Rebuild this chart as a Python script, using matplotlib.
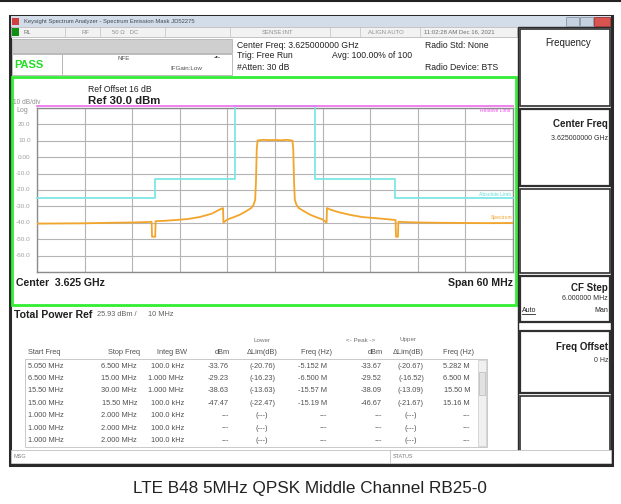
import matplotlib
matplotlib.use("Agg")
import matplotlib.pyplot as plt
from matplotlib.patches import Rectangle

plt.rcParams['font.family'] = ['Liberation Sans', 'DejaVu Sans']

# spectrum trace: offset from 3.625 GHz (MHz) and level (dBm)
trace_freq = [-30, -27, -24, -21, -18, -16.5, -15.55, -15.5, -15.1, -15.05, -14, -12.5, -11,
              -9.5, -8, -7, -6.55, -6.5, -6.0, -5.0, -4.4, -3.5, -3.0, -2.7, -2.5, -2.4, -2.3,
              -2.2, -1.5, -0.8, 0, 0.8, 1.5, 2.2, 2.3, 2.4, 2.5, 2.7, 3.0, 3.5, 4.4, 5.0, 6.0,
              6.5, 6.55, 7, 8, 9.5, 11, 13, 15.2, 15.25, 15.5, 15.55, 16.5, 18, 21, 24, 27, 30]
trace_dbm = [-40.5, -40.4, -40.3, -40.0, -39.8, -39.6, -39.4, -48.5, -48.5, -39.0, -38.8, -38.3, -37.7,
             -36.5, -34.5, -32.0, -31.0, -39.8, -38.0, -36.2, -35.0, -32.5, -31.0, -29.0, -26.0, -15.0, 5.0,
             10.2, 10.6, 10.4, 10.5, 10.3, 10.6, 10.1, 5.0, -15.0, -26.0, -29.0, -31.0, -32.5, -35.0, -36.2, -38.0,
             -39.8, -31.0, -32.0, -33.5, -35.2, -36.5, -37.3, -38.3, -48.5, -48.5, -39.4, -39.6, -39.8, -40.0, -40.1, -40.2, -40.1]

# limit mask
mask_freq = [-30, -15.1, -15.1, -5.05, -5.05, 5.05, 5.05, 15.1, 15.1, 30]
mask_dbm = [-25, -25, -13, -13, 31, 31, -13, -13, -25, -25]

ytick_vals = [20, 10, 0, -10, -20, -30, -40, -50, -60]
ytick_text = ["20.0", "10.0", "0.00", "-10.0", "-20.0", "-30.0", "-40.0", "-50.0", "-60.0"]

# result table
start_freq = ["5.050 MHz", "6.500 MHz", "15.50 MHz", "15.00 MHz", "1.000 MHz", "1.000 MHz", "1.000 MHz"]
stop_freq = ["6.500 MHz", "15.00 MHz", "30.00 MHz", "15.50 MHz", "2.000 MHz", "2.000 MHz", "2.000 MHz"]
integ_bw = ["100.0 kHz", "1.000 MHz", "1.000 MHz", "100.0 kHz", "100.0 kHz", "100.0 kHz", "100.0 kHz"]
lower_dbm = ["-33.76", "-29.23", "-38.63", "-47.47", "---", "---", "---"]
lower_dlim = ["(-20.76)", "(-16.23)", "(-13.63)", "(-22.47)", "(---)", "(---)", "(---)"]
lower_freq = ["-5.152 M", "-6.500 M", "-15.57 M", "-15.19 M", "---", "---", "---"]
upper_dbm = ["-33.67", "-29.52", "-38.09", "-46.67", "---", "---", "---"]
upper_dlim = ["(-20.67)", "(-16.52)", "(-13.09)", "(-21.67)", "(---)", "(---)", "(---)"]
upper_freq = ["5.282 M", "6.500 M", "15.50 M", "15.16 M", "---", "---", "---"]

W, H = 621, 504
fig = plt.figure(figsize=(W / 100, H / 100), dpi=100)
fig.patch.set_facecolor("white")

# pixel-space canvas for the instrument screen
bg = fig.add_axes([0, 0, 1, 1])
bg.set_xlim(0, W)
bg.set_ylim(H, 0)
bg.axis("off")


def box(x0, y0, x1, y1, fc="none", ec="#404040", lw=1.0, z=1):
    bg.add_patch(Rectangle((x0, y0), x1 - x0, y1 - y0, facecolor=fc, edgecolor=ec, lw=lw, zorder=z))


def txt(x, y, s, size=5.5, ha="left", color="#303030", weight="normal"):
    bg.text(x, y, s, fontsize=size, ha=ha, va="center", color=color, fontweight=weight)


bg.plot([0, W], [0.5, 0.5], color="#222222", lw=1.5)

# window
box(10, 16, 612, 465, fc="white", ec="#2a2a2a", lw=2.2)
box(11, 16, 611, 27, fc="#d3dde9", ec="none")
box(12, 18, 19, 25, fc="#d04040", ec="none", z=2)
txt(24, 21.5, "Keysight Spectrum Analyzer - Spectrum Emission Mask JD52275", size=4.2, color="#404850")
box(566, 17, 579, 26, fc="#c5d1df", ec="#8a96a6", lw=0.6, z=2)
box(580, 17, 593, 26, fc="#c5d1df", ec="#8a96a6", lw=0.6, z=2)
box(594, 17, 610, 26, fc="#d9534f", ec="#a03030", lw=0.6, z=2)

# status row
box(11, 27, 517, 37, fc="#f2f2f2", ec="#b0b0b0", lw=0.5)
box(12, 28, 19, 36, fc="#109010", ec="none", z=2)
for xs in [65, 100, 165, 230, 330, 360, 420]:
    bg.plot([xs, xs], [27, 37], color="#c0c0c0", lw=0.5)
txt(24, 32, "RL", size=4.3, color="#707070")
txt(82, 32, "RF", size=4.3, color="#909090")
txt(112, 32, "50 \u03a9   DC", size=4.3, color="#909090")
txt(262, 32, "SENSE:INT", size=4.3, color="#909090")
txt(368, 32, "ALIGN AUTO", size=4.3, color="#909090")
txt(424, 32, "11:02:28 AM Dec 16, 2021", size=4.3, color="#707070")

# header area
box(12, 39, 232, 53, fc="#cfcfcf", ec="#a8a8a8", lw=0.5)
box(12, 54, 62, 75, fc="white", ec="#b0b0b0", lw=0.6)
box(62, 54, 232, 75, fc="white", ec="#b0b0b0", lw=0.6)
txt(14, 64.5, "PASS", size=8, color="#22dd22", weight="bold")
txt(118, 58, "NFE", size=4.5, color="#505050")
txt(170, 69, "IFGain:Low", size=4.5, color="#505050")
txt(214, 58, "-\u2022-", size=5, color="#303030")
txt(237, 45, "Center Freq: 3.625000000 GHz", size=6.2, color="#202020")
txt(237, 56, "Trig: Free Run", size=6.2, color="#202020")
txt(237, 67, "#Atten: 30 dB", size=6.2, color="#202020")
txt(332, 56, "Avg: 100.00% of 100", size=6.2, color="#202020")
txt(425, 45, "Radio Std: None", size=6.2, color="#202020")
txt(425, 67, "Radio Device: BTS", size=6.2, color="#202020")

# green measurement frame
box(12, 77, 516, 305, fc="white", ec="#33ee33", lw=2.0)
txt(88, 90, "Ref Offset 16 dB", size=6.2, color="#202020")
txt(88, 101, "Ref 30.0 dBm", size=8.2, color="#202020", weight="bold")
txt(13, 102, "10 dB/div", size=4.8, color="#909090")
txt(16, 111, "Log", size=5, color="#909090")
txt(16, 283, "Center  3.625 GHz", size=7.6, color="#202020", weight="bold")
txt(513, 283, "Span 60 MHz", size=7.6, ha="right", color="#202020", weight="bold")

# right soft-key panel
box(518, 27, 611, 464, fc="white", ec="#2a2a2a", lw=1.0)
box(520, 29, 610, 106, ec="#303030", lw=1.2)
txt(568, 43, "Frequency", size=7, ha="center", color="#202020")
box(520, 109, 610, 186, ec="#303030", lw=1.6)
txt(608, 124, "Center Freq", size=7, ha="right", color="#202020", weight="bold")
txt(608, 139, "3.625000000 GHz", size=5, ha="right", color="#303030")
box(520, 189, 610, 273, ec="#303030", lw=1.2)
box(520, 276, 610, 322, ec="#303030", lw=1.6)
txt(608, 288, "CF Step", size=7, ha="right", color="#202020", weight="bold")
txt(608, 299, "6.000000 MHz", size=5, ha="right", color="#303030")
txt(522, 310, "Auto", size=5, color="#202020")
bg.plot([522, 535], [314, 314], color="#202020", lw=0.6)
txt(608, 310, "Man", size=5, ha="right", color="#202020")
box(520, 331, 610, 393, ec="#303030", lw=1.6)
txt(608, 347, "Freq Offset", size=7, ha="right", color="#202020", weight="bold")
txt(608, 361, "0 Hz", size=5, ha="right", color="#303030")
box(520, 396, 610, 455, ec="#303030", lw=1.2)

# result table
txt(14, 315, "Total Power Ref", size=7.6, color="#202020", weight="bold")
txt(97, 315, "25.93 dBm /", size=5.3, color="#606060")
txt(148, 315, "10 MHz", size=5.3, color="#606060")
txt(262, 340, "Lower", size=4.5, ha="center", color="#707070")
txt(361, 340, "<- Peak ->", size=4.5, ha="center", color="#707070")
txt(408, 340, "Upper", size=4.5, ha="center", color="#707070")
hdr = [(28, "Start Freq", "left"), (140, "Stop Freq", "right"), (187, "Integ BW", "right"),
       (230, "dBm", "right"), (262, "\u0394Lim(dB)", "center"), (332, "Freq (Hz)", "right"),
       (383, "dBm", "right"), (408, "\u0394Lim(dB)", "center"), (474, "Freq (Hz)", "right")]
for x, s, ha in hdr:
    txt(x, 352, s, size=5.3, ha=ha, color="#505050")
box(25, 359, 487, 447, fc="white", ec="#c0c0c0", lw=0.6)
box(478, 360, 486, 446, fc="#f0f0f0", ec="#c8c8c8", lw=0.5)
box(479, 372, 485, 395, fc="#e2e2e2", ec="#b8b8b8", lw=0.5)
cols = [(start_freq, 28, "left"), (stop_freq, 137, "right"), (integ_bw, 184, "right"),
        (lower_dbm, 229, "right"), (lower_dlim, 262, "center"), (lower_freq, 327, "right"),
        (upper_dbm, 382, "right"), (upper_dlim, 411, "center"), (upper_freq, 470, "right")]
for i in range(len(start_freq)):
    y = 366 + i * 12.4
    for vals, x, ha in cols:
        txt(x, y, vals[i], size=5.3, ha=ha, color="#505050")

# message bar
box(11, 450, 611, 463, fc="white", ec="#c0c0c0", lw=0.6)
bg.plot([390, 390], [450, 463], color="#c0c0c0", lw=0.6)
txt(13, 456.5, "MSG", size=4, color="#808080")
txt(393, 456.5, "STATUS", size=4, color="#808080")

# caption
txt(310, 489, "LTE B48 5MHz QPSK Middle Channel RB25-0", size=12.3, ha="center", color="#222222")

# spectrum plot
ax = fig.add_axes([37 / W, 1 - 272 / H, 476 / W, 164 / H])
ax.set_xlim(-30, 30)
ax.set_ylim(-70, 30)
ax.set_xticks(range(-30, 31, 6))
ax.set_yticks(range(-70, 31, 10))
ax.grid(True, color="#b4b4b4", lw=0.8)
ax.tick_params(length=0, labelbottom=False, labelleft=False)
for sp in ax.spines.values():
    sp.set_color("#8c8c8c")
    sp.set_linewidth(1.0)
for v, s in zip(ytick_vals, ytick_text):
    ax.text(-30.8, v, s, fontsize=4.6, ha="right", va="center", color="#a0a0a0")

ax.plot(mask_freq, mask_dbm, color="#7fe6e6", lw=1.3, clip_on=False, zorder=3)
ax.plot([-30, 30], [31.5, 31.5], color="#ee77ee", lw=1.3, clip_on=False, zorder=4)
ax.plot(trace_freq, trace_dbm, color="#f2a52a", lw=1.3, zorder=5)
ax.text(29.7, 28.3, "Relative Limit", fontsize=3.6, ha="right", va="center", color="#ee55ee")
ax.text(29.7, -22.5, "Absolute Limit", fontsize=3.6, ha="right", va="center", color="#66dddd")
ax.text(29.9, -36.5, "Spectrum", fontsize=3.6, ha="right", va="center", color="#f2a52a")

fig.savefig("out.png", dpi=100)
